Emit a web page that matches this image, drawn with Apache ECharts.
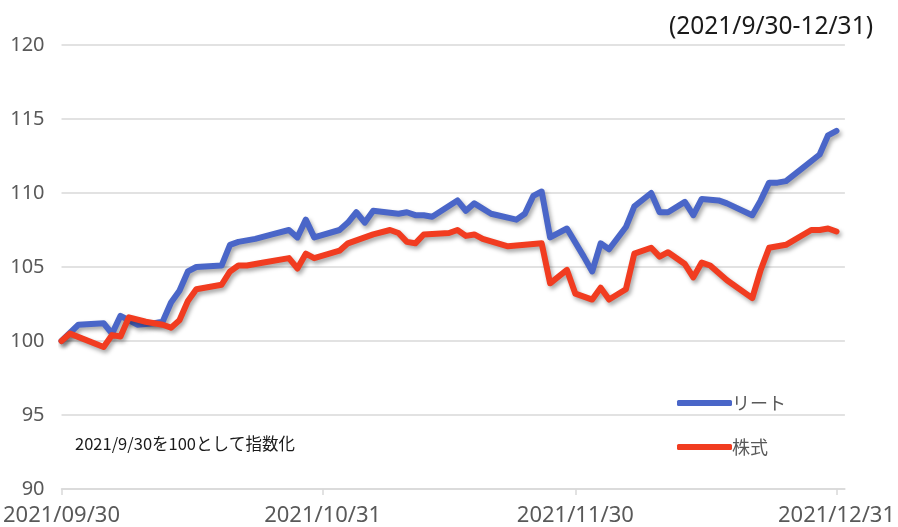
<!DOCTYPE html>
<html>
<head>
<meta charset="utf-8">
<script src="https://cdn.jsdelivr.net/npm/echarts@6/dist/echarts.min.js"></script>
<style>
html,body{margin:0;padding:0;background:#fff;}
#chart{width:898px;height:527px;}
</style>
</head>
<body>
<div id="chart"></div>
<script>
const reitDates = ['2021-09-30','2021-10-02','2021-10-05','2021-10-06','2021-10-07','2021-10-09','2021-10-11','2021-10-12','2021-10-13','2021-10-14','2021-10-15','2021-10-16','2021-10-19','2021-10-20','2021-10-21','2021-10-23','2021-10-25','2021-10-27','2021-10-28','2021-10-29','2021-10-30','2021-11-02','2021-11-03','2021-11-04','2021-11-05','2021-11-06','2021-11-09','2021-11-10','2021-11-11','2021-11-12','2021-11-13','2021-11-16','2021-11-17','2021-11-18','2021-11-20','2021-11-23','2021-11-24','2021-11-25','2021-11-26','2021-11-27','2021-11-29','2021-12-01','2021-12-02','2021-12-03','2021-12-04','2021-12-06','2021-12-07','2021-12-09','2021-12-10','2021-12-11','2021-12-13','2021-12-14','2021-12-15','2021-12-17','2021-12-18','2021-12-21','2021-12-22','2021-12-23','2021-12-24','2021-12-25','2021-12-27','2021-12-29','2021-12-30','2021-12-31'];
const reitValues = [100.0,101.1,101.2,100.5,101.7,101.1,101.2,101.3,102.6,103.4,104.7,105.0,105.1,106.5,106.7,106.9,107.2,107.5,107.0,108.2,107.0,107.5,108.0,108.7,108.0,108.8,108.6,108.7,108.5,108.5,108.4,109.5,108.8,109.3,108.6,108.2,108.6,109.8,110.1,107.0,107.6,105.7,104.7,106.6,106.2,107.7,109.1,110.0,108.7,108.7,109.4,108.5,109.6,109.5,109.3,108.5,109.5,110.7,110.7,110.8,111.7,112.6,113.9,114.2];

const stockDates = ['2021-09-30','2021-10-01','2021-10-05','2021-10-06','2021-10-07','2021-10-08','2021-10-10','2021-10-12','2021-10-13','2021-10-14','2021-10-15','2021-10-16','2021-10-17','2021-10-19','2021-10-20','2021-10-21','2021-10-22','2021-10-24','2021-10-27','2021-10-28','2021-10-29','2021-10-30','2021-11-02','2021-11-03','2021-11-06','2021-11-08','2021-11-09','2021-11-10','2021-11-11','2021-11-12','2021-11-15','2021-11-16','2021-11-17','2021-11-18','2021-11-19','2021-11-22','2021-11-24','2021-11-26','2021-11-27','2021-11-29','2021-11-30','2021-12-02','2021-12-03','2021-12-04','2021-12-06','2021-12-07','2021-12-09','2021-12-10','2021-12-11','2021-12-13','2021-12-14','2021-12-15','2021-12-16','2021-12-18','2021-12-21','2021-12-22','2021-12-23','2021-12-25','2021-12-28','2021-12-29','2021-12-30','2021-12-31'];
const stockValues = [100.0,100.5,99.6,100.4,100.3,101.6,101.3,101.1,100.9,101.4,102.7,103.5,103.6,103.8,104.7,105.1,105.1,105.3,105.6,104.9,105.9,105.6,106.1,106.6,107.2,107.5,107.3,106.7,106.6,107.2,107.3,107.5,107.1,107.2,106.9,106.4,106.5,106.6,103.9,104.8,103.2,102.8,103.6,102.8,103.5,105.9,106.3,105.7,106.0,105.2,104.3,105.3,105.1,104.1,102.9,104.8,106.3,106.5,107.5,107.5,107.6,107.4];

const xTickDates = ['2021-09-30','2021-10-31','2021-11-30','2021-12-31'];
const xTickLabels = ['2021/09/30','2021/10/31','2021/11/30','2021/12/31'];
const seriesNames = ['リート','株式'];
const titleText = '(2021/9/30-12/31)';
const noteText = '2021/9/30を100として指数化';

function ts(s){const p=s.split('-');return Date.UTC(+p[0],+p[1]-1,+p[2]);}
const tickTs = xTickDates.map(ts);

const chart = echarts.init(document.getElementById('chart'));
const shadow = {shadowColor:'rgba(0,0,0,0.35)',shadowBlur:4,shadowOffsetX:2,shadowOffsetY:3};
chart.setOption({
  animation:false,
  textStyle:{fontFamily:'"Noto Sans","Noto Sans CJK JP",sans-serif'},
  title:{text:titleText,right:20,top:10,textStyle:{fontSize:24.5,fontWeight:'normal',color:'#1a1a1a',fontFamily:'"Noto Sans",sans-serif'}},
  graphic:[{type:'text',left:75,top:435,style:{text:noteText,fontSize:16.5,fill:'#1a1a1a',fontFamily:'"Noto Sans CJK JP",sans-serif'}}],
  legend:{orient:'vertical',left:672,top:389,itemWidth:55,itemHeight:6,itemGap:26,icon:'roundRect',
    textStyle:{fontSize:18,color:'#595959',padding:[0,0,0,-5],fontFamily:'"Noto Sans CJK JP",sans-serif'},data:seriesNames},
  grid:{left:60,right:52,top:45,bottom:38,containLabel:false},
  xAxis:{type:'value',min:ts('2021-09-30'),max:ts('2022-01-01'),
    axisLine:{show:true,lineStyle:{color:'#d9d9d9',width:1.5}},
    axisTick:{show:true,customValues:tickTs,length:6,lineStyle:{color:'#d9d9d9',width:1.5}},
    axisLabel:{customValues:tickTs,fontSize:22,color:'#595959',margin:16,
      formatter:function(v){const i=tickTs.indexOf(v);return i>=0?xTickLabels[i]:'';}},
    splitLine:{show:false}},
  yAxis:{type:'value',min:90,max:120,interval:5,
    axisLine:{show:false},axisTick:{show:false},
    axisLabel:{fontSize:20,color:'#595959',margin:17},
    splitLine:{lineStyle:{color:'#d9d9d9',width:1.5}}},
  series:[
    {name:seriesNames[0],type:'line',showSymbol:false,symbol:'none',
      data:reitDates.map((d,i)=>[ts(d),reitValues[i]]),
      itemStyle:{color:'#4a66c8'},lineStyle:Object.assign({width:6,color:'#4a66c8',cap:'round',join:'round'},shadow)},
    {name:seriesNames[1],type:'line',showSymbol:false,symbol:'none',
      data:stockDates.map((d,i)=>[ts(d),stockValues[i]]),
      itemStyle:{color:'#f13c20'},lineStyle:Object.assign({width:6,color:'#f13c20',cap:'round',join:'round'},shadow)}
  ]
});
</script>
</body>
</html>
